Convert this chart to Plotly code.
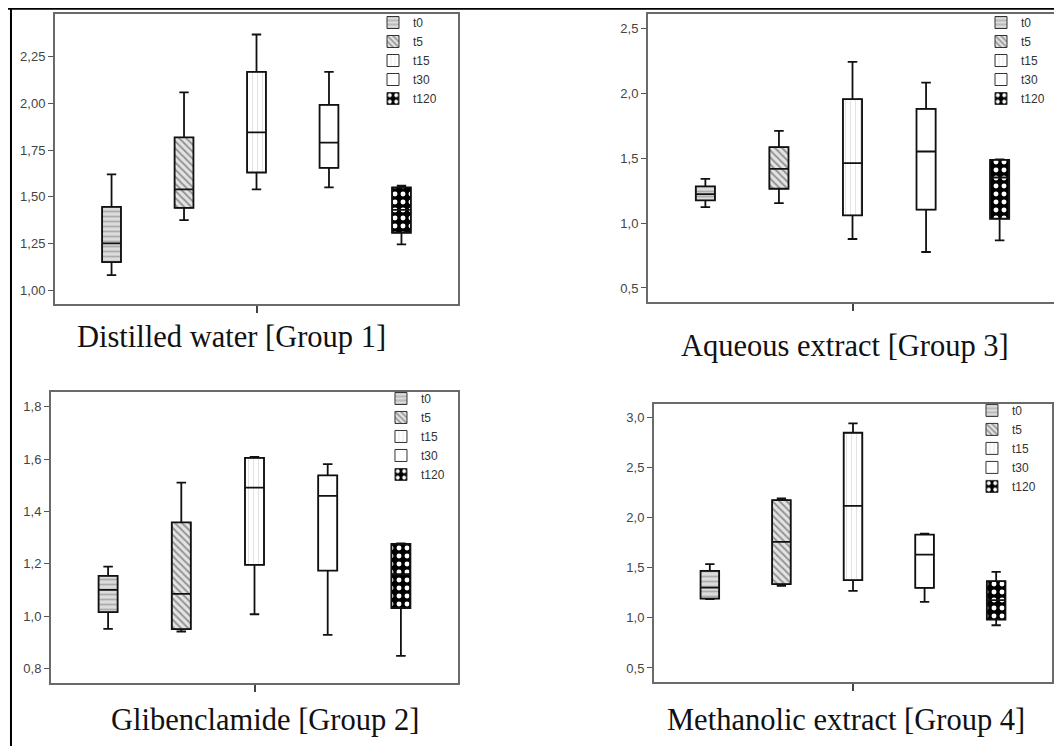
import plotly.graph_objects as go

TIMES = ["t0", "t5", "t15", "t30", "t120"]

PANEL_TITLES = ["Distilled water [Group 1]", "Aqueous extract [Group 3]",
                "Glibenclamide [Group 2]", "Methanolic extract [Group 4]"]

# box statistics per panel (order: t0, t5, t15, t30, t120)
G1_MIN = [1.08, 1.375, 1.54, 1.55, 1.245]
G1_Q1 = [1.15, 1.44, 1.63, 1.655, 1.307]
G1_MED = [1.25, 1.54, 1.845, 1.79, 1.43]
G1_Q3 = [1.446, 1.818, 2.17, 1.993, 1.55]
G1_MAX = [1.62, 2.06, 2.37, 2.17, 1.56]

G3_MIN = [1.123, 1.154, 0.877, 0.777, 0.867]
G3_Q1 = [1.174, 1.264, 1.059, 1.103, 1.033]
G3_MED = [1.223, 1.418, 1.462, 1.551, 1.351]
G3_Q3 = [1.282, 1.585, 1.954, 1.879, 1.487]
G3_MAX = [1.341, 1.71, 2.241, 2.082, 1.49]

G2_MIN = [0.951, 0.941, 1.007, 0.928, 0.848]
G2_Q1 = [1.015, 0.950, 1.196, 1.174, 1.030]
G2_MED = [1.100, 1.085, 1.491, 1.46, 1.16]
G2_Q3 = [1.154, 1.358, 1.605, 1.538, 1.276]
G2_MAX = [1.189, 1.51, 1.609, 1.581, 1.278]

G4_MIN = [1.187, 1.32, 1.27, 1.16, 0.927]
G4_Q1 = [1.193, 1.337, 1.377, 1.30, 0.983]
G4_MED = [1.303, 1.76, 2.12, 1.633, 1.177]
G4_Q3 = [1.47, 2.177, 2.85, 1.833, 1.367]
G4_MAX = [1.537, 2.193, 2.943, 1.843, 1.46]

PANELS = [
    (G1_MIN, G1_Q1, G1_MED, G1_Q3, G1_MAX),
    (G3_MIN, G3_Q1, G3_MED, G3_Q3, G3_MAX),
    (G2_MIN, G2_Q1, G2_MED, G2_Q3, G2_MAX),
    (G4_MIN, G4_Q1, G4_MED, G4_Q3, G4_MAX),
]

# styling
X_DOMAINS = [[0.04426, 0.42373], [0.60264, 0.98776], [0.04049, 0.42373], [0.60829, 0.98305]]
Y_DOMAINS = [[0.60322, 0.99196], [0.60590, 0.99196], [0.09517, 0.48525], [0.09651, 0.46917]]
Y_RANGES = [[0.925, 2.48], [0.392, 2.61], [0.744, 1.857], [0.36, 3.137]]
Y_DTICK = [0.25, 0.5, 0.2, 0.5]
Y_FMT = [".2f", ".1f", ".1f", ".1f"]
LEGEND_POS = [(0.3437, 1.0), (0.9162, 1.0), (0.3512, 0.496), (0.9077, 0.480)]
TITLE_POS = [(0.210, 0.559), (0.788, 0.547), (0.242, 0.0456), (0.789, 0.0456)]

PATTERNS = [
    dict(shape="-", bgcolor="#dcdcdc", fgcolor="#7a7a7a", size=5, solidity=0.35),
    dict(shape="\\", bgcolor="#e4e4e4", fgcolor="#444444", size=5, solidity=0.4),
    dict(shape="|", bgcolor="#ffffff", fgcolor="#c8c8c8", size=5, solidity=0.2),
    dict(shape="", bgcolor="#ffffff", fgcolor="#ffffff", size=5, solidity=0.1),
    dict(shape=".", bgcolor="#000000", fgcolor="#ffffff", fgopacity=1, size=8, solidity=0.3),
]
FILLS = ["#dcdcdc", "#e4e4e4", "#ffffff", "#ffffff", "#000000"]

fig = go.Figure()
layout = dict(
    width=1062, height=746,
    margin=dict(l=0, r=0, t=0, b=0),
    paper_bgcolor="white", plot_bgcolor="white",
    separators=",.",
    barmode="overlay", boxmode="overlay",
    showlegend=True,
    font=dict(family="Liberation Sans, Arial", color="#333"),
)

for p, (mn, q1, med, q3, mx) in enumerate(PANELS):
    sfx = "" if p == 0 else str(p + 1)
    xa, ya = "x" + sfx, "y" + sfx
    lg = "legend" + sfx
    for i, t in enumerate(TIMES):
        fig.add_trace(go.Bar(
            x=[t], y=[q3[i] - q1[i]], base=[q1[i]], width=0.26,
            name=t, legend=lg, xaxis=xa, yaxis=ya,
            marker=dict(color=FILLS[i], pattern=PATTERNS[i],
                        line=dict(color="#333", width=1)),
            hoverinfo="skip",
        ))
    fig.add_trace(go.Box(
        x=TIMES, q1=q1, median=med, q3=q3, lowerfence=mn, upperfence=mx,
        width=0.26, whiskerwidth=0.5, fillcolor="rgba(0,0,0,0)",
        line=dict(color="#111111", width=1.8),
        showlegend=False, xaxis=xa, yaxis=ya,
    ))
    layout["xaxis" + sfx] = dict(
        domain=X_DOMAINS[p], anchor=ya, type="category",
        categoryorder="array", categoryarray=TIMES,
        range=[-0.78, 4.78], tickvals=["t15"], ticktext=[""],
        ticks="outside", ticklen=7, tickwidth=1.5, tickcolor="#444",
        showline=True, mirror=True, linecolor="#6a6a6a", linewidth=2,
        showgrid=False, zeroline=False, fixedrange=True,
    )
    layout["yaxis" + sfx] = dict(
        domain=Y_DOMAINS[p], anchor=xa, range=Y_RANGES[p],
        dtick=Y_DTICK[p], tick0=0, tickformat=Y_FMT[p],
        ticks="outside", ticklen=5, tickwidth=1.2, tickcolor="#555",
        tickfont=dict(size=13, color="#444", family="Liberation Sans, Arial"),
        showline=True, mirror=True, linecolor="#6a6a6a", linewidth=2,
        showgrid=False, zeroline=False, fixedrange=True,
    )
    lx, ly = LEGEND_POS[p]
    layout[lg] = dict(
        x=lx, y=ly, xanchor="left", yanchor="top",
        bgcolor="rgba(0,0,0,0)", borderwidth=0,
        font=dict(size=12, color="#333", family="Liberation Sans, Arial"),
        itemwidth=30, tracegroupgap=0, itemclick=False,
    )

annotations = []
for p, title in enumerate(PANEL_TITLES):
    tx, ty = TITLE_POS[p]
    annotations.append(dict(
        text=title, x=tx, y=ty, xref="paper", yref="paper",
        xanchor="center", yanchor="middle", showarrow=False,
        font=dict(family="Liberation Serif, Times New Roman", size=30.5, color="#111"),
    ))
layout["annotations"] = annotations
layout["shapes"] = [
    dict(type="line", xref="paper", yref="paper", x0=0.0, x1=1.0,
         y0=0.999, y1=0.999, line=dict(color="black", width=2)),
    dict(type="line", xref="paper", yref="paper", x0=0.0028, x1=0.0028,
         y0=0, y1=1.0, line=dict(color="black", width=2)),
]

fig.update_layout(**layout)
fig.write_html("out.html")
